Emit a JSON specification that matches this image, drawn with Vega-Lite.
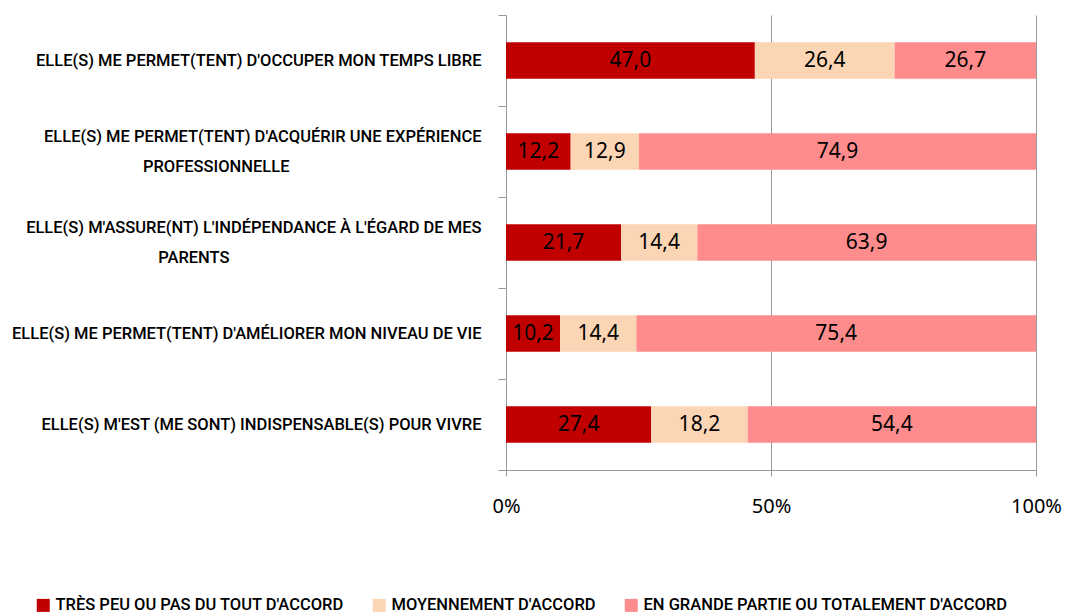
{
  "$schema": "https://vega.github.io/schema/vega-lite/v6.json",
  "width": 530,
  "height": 455,
  "autosize": {"type": "none"},
  "padding": {"left": 506, "top": 15, "right": 33, "bottom": 145},
  "config": {
    "view": {"stroke": null},
    "locale": {"number": {"decimal": ",", "thousands": " ", "grouping": [3], "currency": ["", " €"]}}
  },
  "data": {
    "values": [
      {"cat": "ELLE(S) ME PERMET(TENT) D'OCCUPER MON TEMPS LIBRE", "rep": "TRÈS PEU OU PAS DU TOUT D'ACCORD", "k": 1, "value": 47.0},
      {"cat": "ELLE(S) ME PERMET(TENT) D'OCCUPER MON TEMPS LIBRE", "rep": "MOYENNEMENT D'ACCORD", "k": 2, "value": 26.4},
      {"cat": "ELLE(S) ME PERMET(TENT) D'OCCUPER MON TEMPS LIBRE", "rep": "EN GRANDE PARTIE OU TOTALEMENT D'ACCORD", "k": 3, "value": 26.7},
      {"cat": "ELLE(S) ME PERMET(TENT) D'ACQUÉRIR UNE EXPÉRIENCE|PROFESSIONNELLE", "rep": "TRÈS PEU OU PAS DU TOUT D'ACCORD", "k": 1, "value": 12.2},
      {"cat": "ELLE(S) ME PERMET(TENT) D'ACQUÉRIR UNE EXPÉRIENCE|PROFESSIONNELLE", "rep": "MOYENNEMENT D'ACCORD", "k": 2, "value": 12.9},
      {"cat": "ELLE(S) ME PERMET(TENT) D'ACQUÉRIR UNE EXPÉRIENCE|PROFESSIONNELLE", "rep": "EN GRANDE PARTIE OU TOTALEMENT D'ACCORD", "k": 3, "value": 74.9},
      {"cat": "ELLE(S) M'ASSURE(NT) L'INDÉPENDANCE À L'ÉGARD DE MES|PARENTS", "rep": "TRÈS PEU OU PAS DU TOUT D'ACCORD", "k": 1, "value": 21.7},
      {"cat": "ELLE(S) M'ASSURE(NT) L'INDÉPENDANCE À L'ÉGARD DE MES|PARENTS", "rep": "MOYENNEMENT D'ACCORD", "k": 2, "value": 14.4},
      {"cat": "ELLE(S) M'ASSURE(NT) L'INDÉPENDANCE À L'ÉGARD DE MES|PARENTS", "rep": "EN GRANDE PARTIE OU TOTALEMENT D'ACCORD", "k": 3, "value": 63.9},
      {"cat": "ELLE(S) ME PERMET(TENT) D'AMÉLIORER MON NIVEAU DE VIE", "rep": "TRÈS PEU OU PAS DU TOUT D'ACCORD", "k": 1, "value": 10.2},
      {"cat": "ELLE(S) ME PERMET(TENT) D'AMÉLIORER MON NIVEAU DE VIE", "rep": "MOYENNEMENT D'ACCORD", "k": 2, "value": 14.4},
      {"cat": "ELLE(S) ME PERMET(TENT) D'AMÉLIORER MON NIVEAU DE VIE", "rep": "EN GRANDE PARTIE OU TOTALEMENT D'ACCORD", "k": 3, "value": 75.4},
      {"cat": "ELLE(S) M'EST (ME SONT) INDISPENSABLE(S) POUR VIVRE", "rep": "TRÈS PEU OU PAS DU TOUT D'ACCORD", "k": 1, "value": 27.4},
      {"cat": "ELLE(S) M'EST (ME SONT) INDISPENSABLE(S) POUR VIVRE", "rep": "MOYENNEMENT D'ACCORD", "k": 2, "value": 18.2},
      {"cat": "ELLE(S) M'EST (ME SONT) INDISPENSABLE(S) POUR VIVRE", "rep": "EN GRANDE PARTIE OU TOTALEMENT D'ACCORD", "k": 3, "value": 54.4}
    ]
  },
  "transform": [
    {"stack": "value", "groupby": ["cat"], "sort": [{"field": "k"}], "offset": "normalize", "as": ["v0", "v1"]},
    {"calculate": "(datum.v0 + datum.v1) / 2", "as": "mid"}
  ],
  "encoding": {
    "y": {
      "field": "cat", "type": "nominal", "sort": null,
      "scale": {"paddingInner": 0, "paddingOuter": 0},
      "axis": {
        "title": null,
        "labelExpr": "length(split(datum.label, '|')) > 1 ? [split(datum.label, '|')[0], '\u2800', pad(split(datum.label, '|')[1], length(split(datum.label, '|')[1]) + (indexof(datum.label, 'PARENTS') >= 0 ? 21 : 16), '\u2800')] : ['\u2800', datum.label]",
        "labelOffset": -15,
        "labelBaseline": "middle",
        "labelFont": "Roboto",
        "labelFontWeight": 500,
        "labelFontSize": 16.5,
        "labelColor": "#000000",
        "labelLimit": 700,
        "labelLineHeight": 15,
        "labelPadding": 17,
        "tickBand": "extent",
        "tickSize": 8,
        "tickColor": "#999999",
        "domainColor": "#999999",
        "grid": false
      }
    }
  },
  "layer": [
    {
      "mark": {"type": "bar", "height": {"band": 0.4}},
      "encoding": {
        "x": {
          "field": "v0", "type": "quantitative",
          "scale": {"domain": [0, 1], "nice": false},
          "axis": {
            "title": null,
            "values": [0, 0.5, 1],
            "format": ".0%",
            "grid": true,
            "gridColor": "#999999",
            "gridWidth": 1,
            "domainColor": "#999999",
            "tickColor": "#999999",
            "tickSize": 6,
            "labelFlush": false,
            "labelFont": "Noto Sans",
            "labelFontSize": 20,
            "labelColor": "#000000",
            "labelPadding": 20
          }
        },
        "x2": {"field": "v1"},
        "color": {
          "field": "rep", "type": "nominal",
          "scale": {
            "domain": ["TRÈS PEU OU PAS DU TOUT D'ACCORD", "MOYENNEMENT D'ACCORD", "EN GRANDE PARTIE OU TOTALEMENT D'ACCORD"],
            "range": ["#C00000", "#FCD5B5", "#FF8C8C"]
          },
          "legend": {
            "title": null,
            "orient": "none",
            "legendX": -471,
            "legendY": 582,
            "direction": "horizontal",
            "symbolType": "square",
            "symbolSize": 169,
            "symbolStrokeWidth": 0,
            "labelFont": "Roboto",
            "labelFontWeight": 500,
            "labelFontSize": 16.5,
            "labelColor": "#000000",
            "labelLimit": 400,
            "columnPadding": 27
          }
        }
      }
    },
    {
      "mark": {"type": "text", "font": "Noto Sans", "fontSize": 21, "color": "#000000", "align": "center", "baseline": "middle"},
      "encoding": {
        "x": {"field": "mid", "type": "quantitative"},
        "text": {"field": "value", "type": "quantitative", "format": ".1f"}
      }
    }
  ]
}
